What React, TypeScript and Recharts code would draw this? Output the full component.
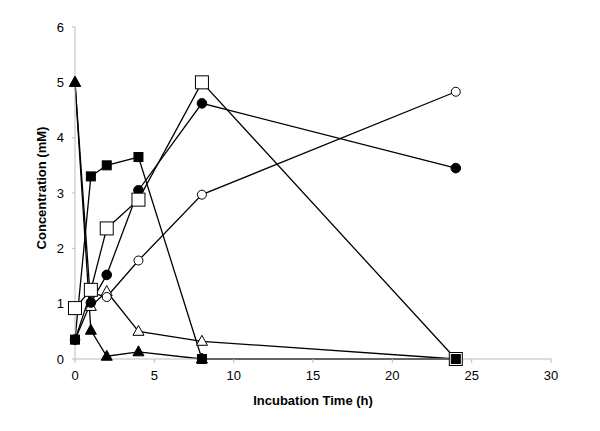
import React from "react";
import { LineChart, Line, XAxis, YAxis } from "recharts";

const times = [0, 1, 2, 4, 8, 24];
const filledSquare = [0.35, 3.3, 3.5, 3.65, 0, 0];
const filledCircle = [0.35, 1.02, 1.52, 3.05, 4.62, 3.45];
const openCircle = [0.35, 1.2, 1.12, 1.78, 2.97, 4.83];
const openSquare = [0.92, 1.25, 2.36, 2.88, 5.0, 0];
const openTriangle = [5.0, 0.95, 1.22, 0.5, 0.32, 0];
const filledTriangle = [5.0, 0.52, 0.05, 0.13, 0, 0];
const xTicks = [0, 5, 10, 15, 20, 25, 30];
const yTicks = [0, 1, 2, 3, 4, 5, 6];

const toData = (vals: number[]) => times.map((t, i) => ({ x: t, y: vals[i] }));

type Kind = "fsq" | "osq" | "fci" | "oci" | "ftr" | "otr";

const makeDot = (kind: Kind) => (props: any) => {
  const { cx, cy, index } = props;
  const key = `${kind}-${index}`;
  if (cx == null || cy == null) return <g key={key} />;
  switch (kind) {
    case "fsq":
      return <rect key={key} x={cx - 4.5} y={cy - 4.5} width={9} height={9} fill="#000" stroke="#000" />;
    case "osq":
      return <rect key={key} x={cx - 6.5} y={cy - 6.5} width={13} height={13} fill="#fff" stroke="#000" strokeWidth={1} />;
    case "fci":
      return <circle key={key} cx={cx} cy={cy} r={4.8} fill="#000" stroke="#000" />;
    case "oci":
      return <circle key={key} cx={cx} cy={cy} r={4.5} fill="#fff" stroke="#000" strokeWidth={1} />;
    case "ftr":
      return <path key={key} d={`M${cx},${cy - 6} L${cx + 5.5},${cy + 4} L${cx - 5.5},${cy + 4} Z`} fill="#000" stroke="#000" />;
    case "otr":
      return <path key={key} d={`M${cx},${cy - 6} L${cx + 5.5},${cy + 4} L${cx - 5.5},${cy + 4} Z`} fill="#fff" stroke="#000" strokeWidth={1} />;
  }
  return <g key={key} />;
};

const series: { name: string; vals: number[]; kind: Kind }[] = [
  { name: "openTriangle", vals: openTriangle, kind: "otr" },
  { name: "filledTriangle", vals: filledTriangle, kind: "ftr" },
  { name: "openCircle", vals: openCircle, kind: "oci" },
  { name: "filledCircle", vals: filledCircle, kind: "fci" },
  { name: "openSquare", vals: openSquare, kind: "osq" },
  { name: "filledSquare", vals: filledSquare, kind: "fsq" },
];

const font = "Liberation Sans, Arial, sans-serif";

export default function App() {
  return (
    <div style={{ width: 592, height: 415, fontFamily: font }}>
      <LineChart width={592} height={415} margin={{ top: 19, right: 49, left: 27, bottom: 14 }}>
        <XAxis
          type="number"
          dataKey="x"
          domain={[0, 30]}
          ticks={xTicks}
          stroke="#bdbdbd"
          tickSize={4}
          tickMargin={8}
          height={50}
          tick={{ fill: "#000", fontSize: 13, fontFamily: font }}
          label={{ value: "Incubation Time (h)", position: "insideBottom", offset: 4, fill: "#000", fontSize: 13, fontWeight: "bold", fontFamily: font }}
        />
        <YAxis
          type="number"
          dataKey="y"
          domain={[0, 6]}
          ticks={yTicks}
          stroke="#bdbdbd"
          tickSize={3}
          tickMargin={8}
          width={40}
          tick={{ fill: "#000", fontSize: 13, fontFamily: font }}
          label={{ value: "Concentration (mM)", angle: -90, position: "insideLeft", offset: 6, dy: -5, fill: "#000", fontSize: 13, fontWeight: "bold", fontFamily: font, style: { textAnchor: "middle" } }}
        />
        {series.map((s) => (
          <Line
            key={s.name}
            data={toData(s.vals)}
            dataKey="y"
            type="linear"
            stroke="#000"
            strokeWidth={1.3}
            dot={makeDot(s.kind)}
            activeDot={false}
            isAnimationActive={false}
          />
        ))}
      </LineChart>
    </div>
  );
}
